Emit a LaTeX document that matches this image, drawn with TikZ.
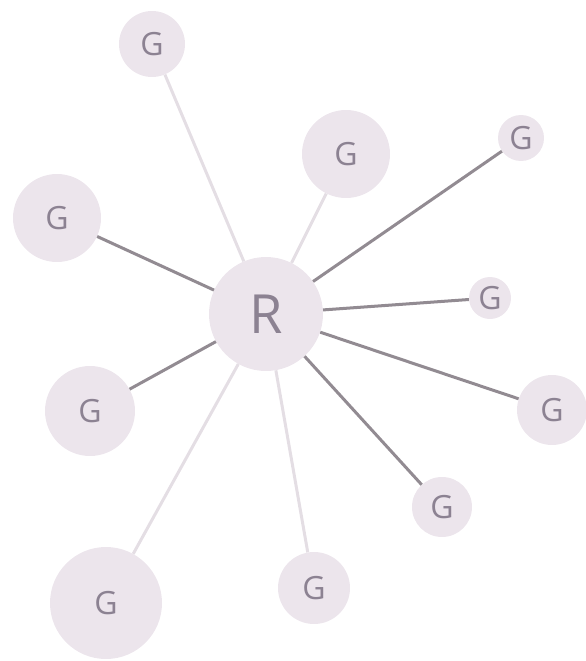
\documentclass[tikz,border=0pt]{standalone}
\usepackage{fontspec}
\setmainfont{Open Sans}
\usepackage{tikz}
\definecolor{lilacgray}{RGB}{236, 229, 236}
\definecolor{graphite}{RGB}{146, 139, 146}
\definecolor{mist}{RGB}{228, 222, 228}
\definecolor{plumtext}{RGB}{140, 130, 146}
\tikzset{
  hub/.style={circle, fill=lilacgray, inner sep=0pt, text=plumtext, font=\fontsize{54}{54}\selectfont},
  leaf/.style={circle, fill=lilacgray, inner sep=0pt, text=plumtext, font=\fontsize{32}{32}\selectfont},
  strong/.style={draw=graphite, line width=3pt},
  weak/.style={draw=mist, line width=3pt}
}
\begin{document}
\begin{tikzpicture}[x=1pt, y=-1pt]
            \useasboundingbox (0, 0) rectangle (586, 661);
            \node[hub,  minimum size=114pt] (r)   at (266, 314) {R};
            \node[leaf, minimum size=66pt]  (g1)  at (152,  44) {G};
            \node[leaf, minimum size=88pt]  (g2)  at (346, 154) {G};
            \node[leaf, minimum size=46pt]  (g3)  at (521, 138) {G};
            \node[leaf, minimum size=88pt]  (g4)  at ( 57, 218) {G};
            \node[leaf, minimum size=42pt]  (g5)  at (490, 298) {G};
            \node[leaf, minimum size=90pt]  (g6)  at ( 90, 411) {G};
            \node[leaf, minimum size=70pt]  (g7)  at (552, 410) {G};
            \node[leaf, minimum size=60pt]  (g8)  at (442, 507) {G};
            \node[leaf, minimum size=72pt]  (g9)  at (314, 588) {G};
            \node[leaf, minimum size=112pt] (g10) at (106, 603) {G};
            % spokes
            \draw[weak]   (r) -- (g1);
            \draw[weak]   (r) -- (g2);
            \draw[strong] (r) -- (g3);
            \draw[strong] (r) -- (g4);
            \draw[strong] (r) -- (g5);
            \draw[strong] (r) -- (g6);
            \draw[strong] (r) -- (g7);
            \draw[strong] (r) -- (g8);
            \draw[weak]   (r) -- (g9);
            \draw[weak]   (r) -- (g10);
        \end{tikzpicture}
\end{document}
